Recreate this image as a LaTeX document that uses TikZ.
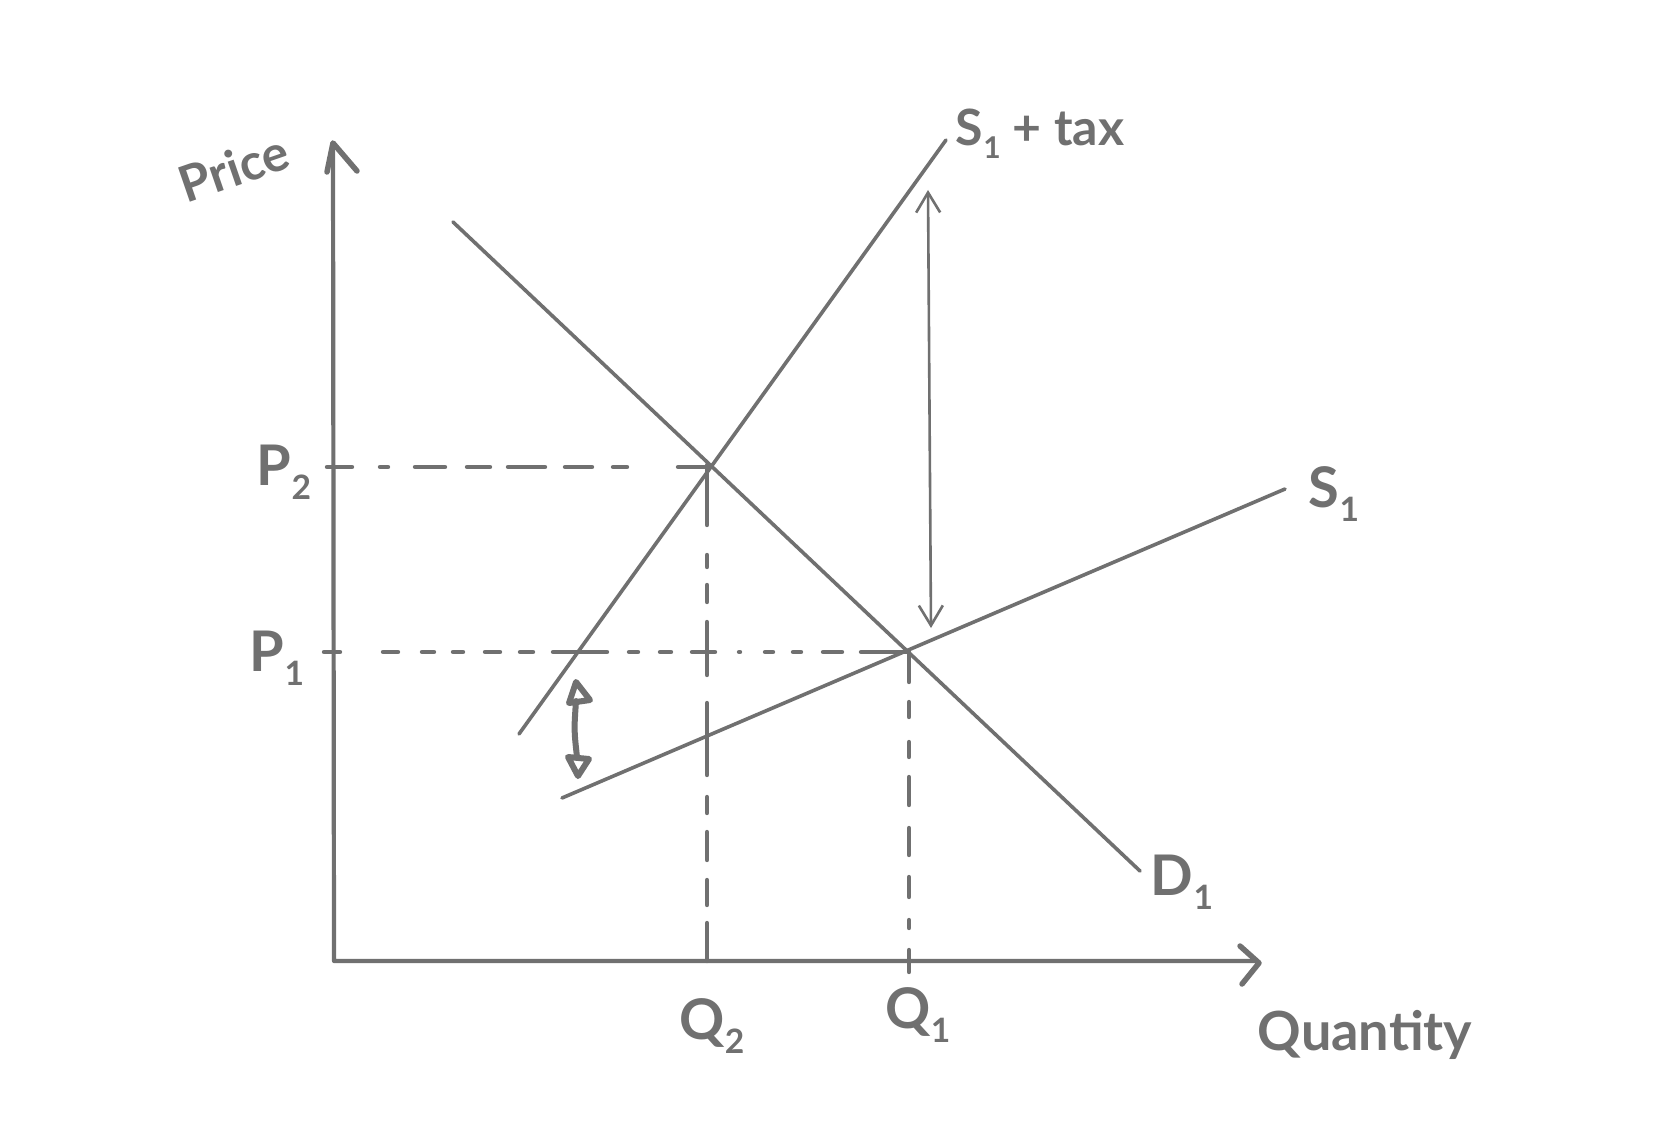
\documentclass[tikz,border=0pt]{standalone}
\usepackage{graphicx}
\usepackage{fontspec}
\setmainfont{Lato}
\usetikzlibrary{arrows.meta}
\definecolor{ink}{RGB}{112,112,112}
\newcommand{\lowsub}[1]{\raisebox{-0.5ex}{\scalebox{0.6}{#1}}}
\begin{document}
\begin{tikzpicture}[x=1pt,y=-1pt, line cap=round, line join=round,
  curve/.style={draw=ink, line width=3.6},
  axis/.style={draw=ink, line width=4.2},
  head/.style={draw=ink, line width=5.5},
  guide/.style={draw=ink, line width=4.4},
  lbl/.style={text=ink, inner sep=0pt, font=\bfseries\fontsize{56}{56}\selectfont}]
\fill[white] (0,0) rectangle (1672,1142);
\useasboundingbox (0,0) rectangle (1672,1142);
% key points
\coordinate (O) at (334,961);
\coordinate (Ytop) at (333,143);
\coordinate (Xend) at (1256,961);
\coordinate (Da) at (453,222);
\coordinate (Db) at (1140,871);
\coordinate (Ta) at (519,734);
\coordinate (Tb) at (946,140);
\coordinate (Sa) at (562,798);
\coordinate (Sb) at (1285,489);
% dashed guides (hand-drawn irregular dashes)
\foreach \a/\b in {327/352,380/388,415/445,467/490,508/545,565/592,613/627,678/711}
  \draw[guide] (\a,467) -- (\b,467);
\foreach \a/\b in {324/340,383/398,422/434,453/463,485/500,520/533,553/607,629/638,660/671,692/715,739/740,765/773,793/801,823/842,861/907}
  \draw[guide] (\a,652) -- (\b,652);
\foreach \a/\b in {465/525,555/567,585/602,622/675,703/775,797/813,832/860,880/905,923/961}
  \draw[guide] (707,\a) -- (707,\b);
\foreach \a/\b in {652/682,702/717,742/757,777/805,828/855,877/897,920/928,950/972}
  \draw[guide] (909,\a) -- (909,\b);
% axes
\draw[axis] (Ytop) -- (O) -- (Xend);
\draw[head] (327,172) -- (Ytop) -- (357,171);
\draw[head] (1240,946) -- (1259,963) -- (1242,984);
% curves
\draw[curve] (Da) -- (Db);
\draw[curve] (Ta) -- (Tb);
\draw[curve] (Sa) -- (Sb);
% tax arrows
\coordinate (TaxTop) at (928,190);
\coordinate (TaxBot) at (931,628);
\draw[draw=ink, line width=2.6, {Straight Barb[length=20pt,width=24pt]}-{Straight Barb[length=20pt,width=24pt]}] (TaxTop) -- (TaxBot);
\coordinate (SmTop) at (576,701);
\coordinate (SmBot) at (577,757);
\draw[head, line width=6] (576,682) -- (590,700) -- (569,703) -- cycle;
\draw[head, line width=6] (SmTop) .. controls (574,730) .. (SmBot);
\draw[head, line width=6] (568,757) -- (589,759) -- (578,776) -- cycle;
% labels
\node[lbl, rotate=19, font=\bfseries\fontsize{50}{50}\selectfont] (price) at (234,168) {Price};
\node[lbl, font=\bfseries\fontsize{50}{50}\selectfont] (stax) at (1040,134) {S\lowsub{1} + tax};
\node[lbl] (p2) at (284,472) {P\lowsub{2}};
\node[lbl] (p1) at (277,658) {P\lowsub{1}};
\node[lbl] (s1) at (1334,494) {S\lowsub{1}};
\node[lbl] (q2) at (712,1026) {Q\lowsub{2}};
\node[lbl] (q1) at (918,1015) {Q\lowsub{1}};
\node[lbl, font=\bfseries\fontsize{54}{54}\selectfont] (qty) at (1365,1035) {Quantity};
\node[lbl] (d1) at (1182,882) {D\lowsub{1}};
\end{tikzpicture}
\end{document}
